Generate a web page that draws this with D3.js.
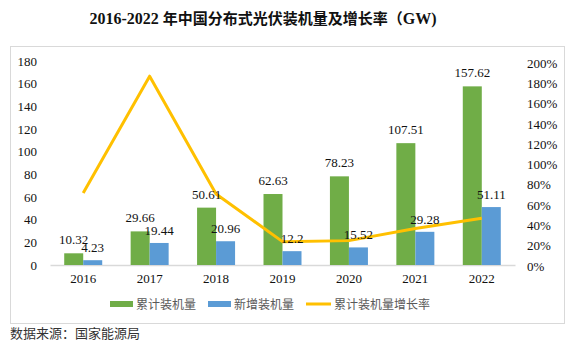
<!DOCTYPE html>
<html>
<head>
<meta charset="utf-8">
<script src="https://cdn.jsdelivr.net/npm/d3@7"></script>
<style>
  body { margin: 0; background: #fff; }
  svg { display: block; }
</style>
</head>
<body>
<svg width="571" height="343"></svg>
<script>
// installed capacity, GW
var years = ["2016", "2017", "2018", "2019", "2020", "2021", "2022"];
var cumulative = [10.32, 29.66, 50.61, 62.63, 78.23, 107.51, 157.62];
var added = [4.23, 19.44, 20.96, 12.2, 15.52, 29.28, 51.11];
// growth rate of cumulative capacity, %
var growth = [72, 187, 71, 24, 25, 37, 47];
var leftTicks = [0, 20, 40, 60, 80, 100, 120, 140, 160, 180];
var rightTicks = [0, 20, 40, 60, 80, 100, 120, 140, 160, 180, 200];

var serif = "'Liberation Serif', 'Times New Roman', serif";
var cjk = "'Noto Sans CJK SC', sans-serif";
var width = 571, height = 343;
var margin = ({top: 61, right: 56, bottom: 78, left: 50});

var svg = d3.select("svg");

// title
svg.append("text")
    .attr("x", 263).attr("y", 24)
    .attr("text-anchor", "middle")
    .attr("font-weight", "bold")
    .attr("font-size", 16)
    .attr("fill", "#111")
    .call(t => {
      t.append("tspan").attr("font-family", serif).text("2016-2022 ");
      t.append("tspan").attr("font-family", cjk).attr("font-size", 15).text("年中国分布式光伏装机量及增长率（");
      t.append("tspan").attr("font-family", serif).text("GW)");
    });

// chart frame
svg.append("rect")
    .attr("x", 10.5).attr("y", 46.5)
    .attr("width", 554).attr("height", 277)
    .attr("fill", "none")
    .attr("stroke", "#d9d9d9");

var x = d3.scaleBand()
    .domain(years)
    .range([margin.left, width - margin.right]);
var y = d3.scaleLinear()
    .domain([0, 180])
    .range([265, margin.top]);
var y2 = d3.scaleLinear()
    .domain([0, 200])
    .range([266, 63]);
var barW = 19;

var yAxis = g => g
    .attr("transform", `translate(${margin.left - 10},0)`)
    .call(d3.axisLeft(y).tickValues(leftTicks).tickSize(0).tickPadding(3))
    .call(g => g.select(".domain").remove());
var y2Axis = g => g
    .attr("transform", `translate(${width - margin.right + 12},0)`)
    .call(d3.axisRight(y2).tickValues(rightTicks).tickSize(0).tickPadding(0).tickFormat(d => d + "%"))
    .call(g => g.select(".domain").remove());
var xAxis = g => g
    .attr("transform", `translate(0,${y(0)})`)
    .call(d3.axisBottom(x).tickSize(0).tickPadding(9))
    .call(g => g.select(".domain").attr("stroke", "#d9d9d9").attr("stroke-width", 1.5));

[yAxis, y2Axis, xAxis].forEach(ax => {
  svg.append("g").call(ax)
      .call(g => g.selectAll("text")
          .attr("font-family", serif)
          .attr("font-size", 13)
          .attr("fill", "#111"));
});

// bars
var idx = d3.range(years.length);
svg.append("g").selectAll("rect")
  .data(idx)
  .join("rect")
    .attr("x", i => x(years[i]) + x.bandwidth() / 2 - barW)
    .attr("y", i => y(cumulative[i]))
    .attr("width", barW)
    .attr("height", i => y(0) - y(cumulative[i]))
    .attr("fill", "#70ad47");
svg.append("g").selectAll("rect")
  .data(idx)
  .join("rect")
    .attr("x", i => x(years[i]) + x.bandwidth() / 2)
    .attr("y", i => y(added[i]))
    .attr("width", barW)
    .attr("height", i => y(0) - y(added[i]))
    .attr("fill", "#5b9bd5");

// growth line
var line = d3.line()
    .x(i => x(years[i]) + x.bandwidth() / 2)
    .y(i => y2(growth[i]));
svg.append("path")
    .datum(idx)
    .attr("fill", "none")
    .attr("stroke", "#ffc000")
    .attr("stroke-width", 3)
    .attr("stroke-linejoin", "round")
    .attr("d", line);

// value labels
var labels = svg.append("g")
    .attr("font-family", serif)
    .attr("font-size", 13)
    .attr("fill", "#111")
    .attr("text-anchor", "middle");
labels.selectAll(".cum")
  .data(idx)
  .join("text")
    .attr("class", "cum")
    .attr("x", i => x(years[i]) + x.bandwidth() / 2 - barW / 2)
    .attr("y", i => y(cumulative[i]) - 9)
    .text(i => cumulative[i]);
labels.selectAll(".add")
  .data(idx)
  .join("text")
    .attr("class", "add")
    .attr("x", i => x(years[i]) + x.bandwidth() / 2 + barW / 2)
    .attr("y", i => y(added[i]) - 8)
    .text(i => added[i]);

// legend
var legend = [
  {name: "累计装机量", color: "#70ad47", type: "bar", x: 110},
  {name: "新增装机量", color: "#5b9bd5", type: "bar", x: 208},
  {name: "累计装机量增长率", color: "#ffc000", type: "line", x: 306}
];
var lg = svg.append("g");
legend.forEach(d => {
  if (d.type === "bar")
    lg.append("rect").attr("x", d.x).attr("y", 301).attr("width", 23).attr("height", 6).attr("fill", d.color);
  else
    lg.append("rect").attr("x", d.x).attr("y", 302.5).attr("width", 25).attr("height", 3).attr("fill", d.color);
  lg.append("text")
      .attr("x", d.x + (d.type === "bar" ? 26 : 28)).attr("y", 308.5)
      .attr("font-family", cjk).attr("font-size", 12)
      .attr("fill", "#595959")
      .text(d.name);
});

// source note
svg.append("text")
    .attr("x", 10).attr("y", 338)
    .attr("font-family", cjk).attr("font-size", 13)
    .attr("fill", "#333")
    .text("数据来源：国家能源局");
</script>
</body>
</html>
